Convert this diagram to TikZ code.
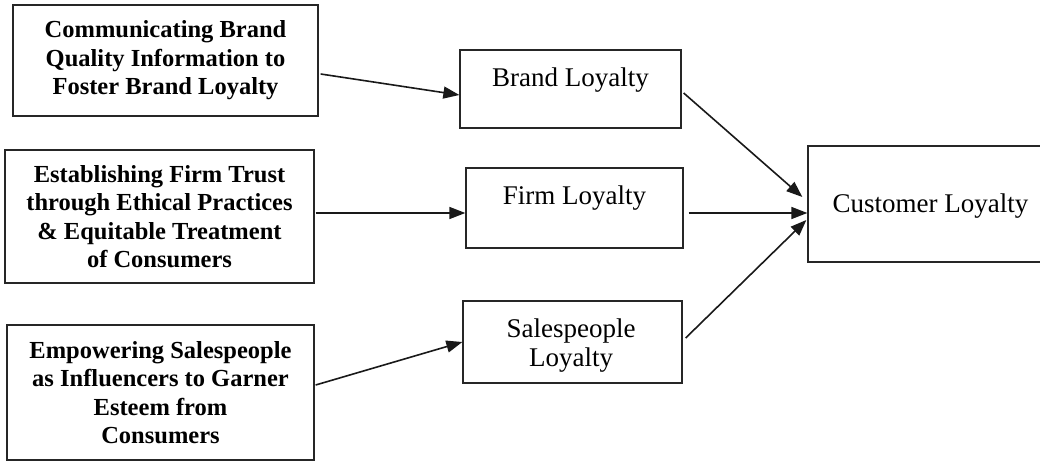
\documentclass[tikz,border=0pt]{standalone}
\usepackage{fontspec}
\setmainfont{Liberation Serif}
\usetikzlibrary{arrows.meta,calc}
\begin{document}
\begin{tikzpicture}[x=1pt,y=-1pt,
  lbox/.style={draw=black!85, line width=1.3pt, align=center, inner sep=0pt,
    font=\bfseries\fontsize{24.5}{28.5}\selectfont},
  rbox/.style={draw=black!85, line width=1.3pt, inner sep=0pt},
  rtext/.style={anchor=base, inner sep=0pt, font=\fontsize{27}{30}\selectfont},
  conn/.style={line width=1.6pt, draw=black!90, -{Triangle[length=16pt,width=12pt]}}]
\useasboundingbox (0,0) rectangle (1040,462);
\clip (0,0) rectangle (1040,462);
% left boxes
\node[lbox, minimum width=305pt, minimum height=111pt] (A) at (165.5,60.5)
  {Communicating Brand\\Quality Information to\\Foster Brand Loyalty};
\node[lbox, minimum width=309pt, minimum height=133pt] (B) at (159.5,216.5)
  {Establishing Firm Trust\\through Ethical Practices\\\& Equitable Treatment\\of Consumers};
\node[lbox, minimum width=307pt, minimum height=135pt] (C) at (160.5,392.5)
  {Empowering Salespeople\\as Influencers to Garner\\Esteem from\\Consumers};
% middle boxes
\node[rbox, minimum width=221pt, minimum height=78pt] (brand) at (570.5,89) {};
\node[rtext] (brandT) at (570.5,87) {Brand Loyalty};
\node[rbox, minimum width=217pt, minimum height=80pt] (firm) at (574.5,208) {};
\node[rtext] (firmT) at (574.5,205) {Firm Loyalty};
\node[rbox, minimum width=219pt, minimum height=82pt] (sales) at (572.5,342) {};
\node[rtext] (salesT1) at (571,337) {Salespeople};
\node[rtext] (salesT2) at (571,366) {Loyalty};
% right box
\node[rbox, minimum width=245pt, minimum height=116pt] (cust) at (930.5,204) {};
\node[rtext] (custT) at (930.5,213) {Customer Loyalty};
% connectors
\draw[conn] ([shift={(2,13.5)}]A.east) -- ([shift={(0,6)}]brand.west);
\draw[conn] ([shift={(1,-3.5)}]B.east) -- ([shift={(0,5)}]firm.west);
\draw[conn] ([shift={(1,-7.5)}]C.east) -- (sales.west);
\draw[conn] ([shift={(2,4)}]brand.east) -- ([shift={(-5,-7)}]cust.west);
\draw[conn] ([shift={(5,5)}]firm.east) -- ([shift={(0,9)}]cust.west);
\draw[conn] ([shift={(3,-4)}]sales.east) -- ([shift={(-1,16)}]cust.west);
\end{tikzpicture}
\end{document}
